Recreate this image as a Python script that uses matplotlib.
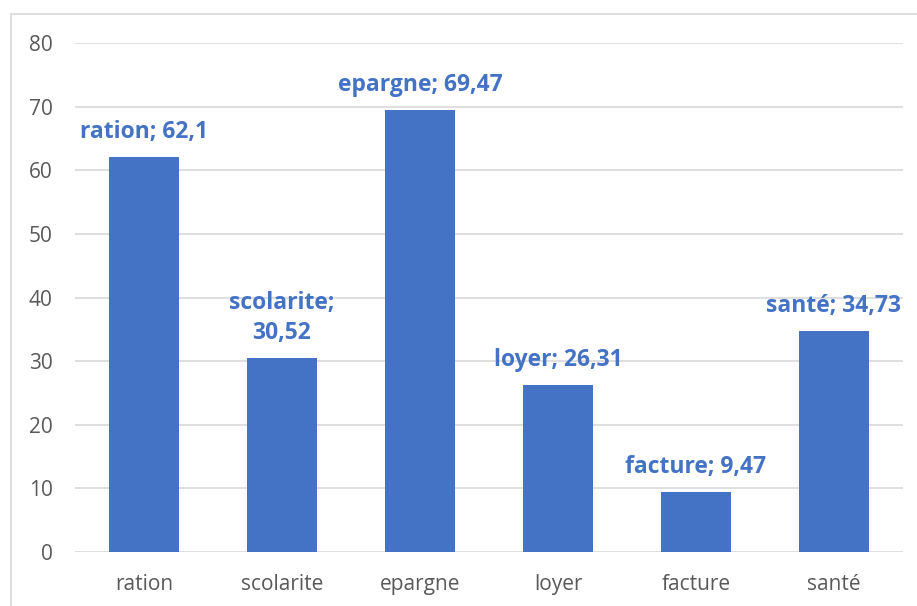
import matplotlib
matplotlib.use("Agg")
import matplotlib.pyplot as plt
from matplotlib.patches import Rectangle

categories = ["ration", "scolarite", "epargne", "loyer", "facture", "santé"]
values = [62.1, 30.52, 69.47, 26.31, 9.47, 34.73]
labels = ["ration; 62,1", "scolarite;\n30,52", "epargne; 69,47",
          "loyer; 26,31", "facture; 9,47", "santé; 34,73"]
yticks = [0, 10, 20, 30, 40, 50, 60, 70, 80]

plt.rcParams["font.family"] = ["Open Sans", "DejaVu Sans"]

W, H = 917, 606
fig = plt.figure(figsize=(W / 100, H / 100), dpi=100)
fig.patch.set_facecolor("white")

# chart frame
fig.patches.append(Rectangle((11 / W, -0.1), 1.2, (H - 14) / H + 0.1,
                             transform=fig.transFigure, fill=False,
                             edgecolor="#d9d9d9", linewidth=1.2))

ax = fig.add_axes([75 / W, 54 / H, 828 / W, 509 / H])
bar_color = "#4472C4"
x = range(len(categories))
ax.bar(x, values, width=0.51, color=bar_color, zorder=3)

ax.set_xlim(-0.5, len(categories) - 0.5)
ax.set_ylim(0, 80)
ax.set_yticks(yticks)
ax.set_xticks(list(x))
ax.set_xticklabels(categories)
ax.tick_params(axis="both", length=0, labelsize=15, labelcolor="#595959")
ax.tick_params(axis="y", pad=16)
ax.tick_params(axis="x", pad=15.5)
ax.grid(axis="y", color="#d9d9d9", linewidth=1.2, zorder=0)
for s in ax.spines.values():
    s.set_visible(False)

for xi, v, lab in zip(x, values, labels):
    ax.annotate(lab, (xi, v), xytext=(0, 13.5), textcoords="offset points",
                ha="center", va="baseline", fontsize=16.5, fontweight="bold",
                color=bar_color, linespacing=1.35)

fig.savefig("out.png", dpi=100)
